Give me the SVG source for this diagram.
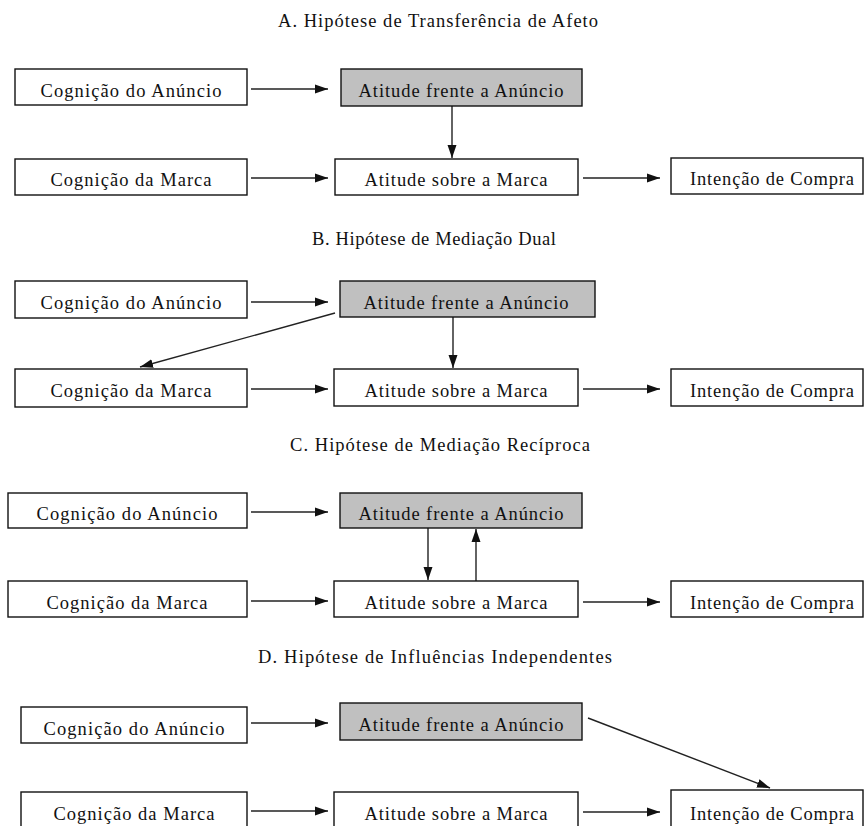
<svg xmlns="http://www.w3.org/2000/svg" width="864" height="826" viewBox="0 0 864 826">
<defs>
<style>
.box{fill:#fff;stroke:#111;stroke-width:1.4}
.gray{fill:#c0c0c0;stroke:#111;stroke-width:1.4}
.t{font-family:"Liberation Serif","Times New Roman",serif;font-size:18.5px;fill:#111;text-anchor:middle}
.title{font-family:"Liberation Serif","Times New Roman",serif;font-size:18.5px;fill:#111;text-anchor:middle}
.c{stroke:#222;stroke-width:1.4;fill:none;marker-end:url(#ah)}
</style>
<marker id="ah" markerUnits="userSpaceOnUse" markerWidth="14" markerHeight="11" refX="13" refY="5.5" orient="auto">
<path d="M0,1 L13,5.5 L0,10 Z" fill="#111"/>
</marker>
</defs>
<rect width="864" height="826" fill="#fff"/>

<text class="title" x="438" y="27" textLength="320" lengthAdjust="spacing">A. Hipótese de Transferência de Afeto</text>
<text class="title" x="434" y="245" textLength="244" lengthAdjust="spacing">B. Hipótese de Mediação Dual</text>
<text class="title" x="440" y="451" textLength="300" lengthAdjust="spacing">C. Hipótese de Mediação Recíproca</text>
<text class="title" x="435" y="663" textLength="354" lengthAdjust="spacing">D. Hipótese de Influências Independentes</text>

<g id="connectors">
<line class="c" x1="251" y1="89" x2="328" y2="89"/>
<line class="c" x1="251" y1="178" x2="328" y2="178"/>
<line class="c" x1="583" y1="178" x2="660" y2="178"/>
<line class="c" x1="452" y1="106" x2="452" y2="158"/>

<line class="c" x1="251" y1="302" x2="328" y2="302"/>
<line class="c" x1="251" y1="389" x2="328" y2="389"/>
<line class="c" x1="583" y1="389" x2="660" y2="389"/>
<line class="c" x1="453" y1="317" x2="453" y2="368"/>
<line class="c" x1="335" y1="313" x2="140" y2="367"/>

<line class="c" x1="251" y1="512" x2="328" y2="512"/>
<line class="c" x1="251" y1="601" x2="328" y2="601"/>
<line class="c" x1="583" y1="602" x2="660" y2="602"/>
<line class="c" x1="428" y1="528" x2="428" y2="580"/>
<line class="c" x1="476" y1="581" x2="476" y2="529"/>

<line class="c" x1="251" y1="723" x2="328" y2="723"/>
<line class="c" x1="251" y1="811" x2="328" y2="811"/>
<line class="c" x1="583" y1="812" x2="660" y2="812"/>
<line class="c" x1="588" y1="718" x2="770" y2="788"/>
</g>

<!-- A -->
<g id="a-cog-anuncio"><rect class="box" x="15" y="69" width="232" height="36"/><text class="t" x="131" y="97" textLength="181" lengthAdjust="spacing">Cognição do Anúncio</text></g>
<g id="a-cog-marca"><rect class="box" x="15" y="159" width="232" height="36"/><text class="t" x="131" y="186" textLength="161" lengthAdjust="spacing">Cognição da Marca</text></g>
<g id="a-att-anuncio"><rect class="gray" x="341" y="69" width="241" height="37"/><text class="t" x="461" y="97" textLength="205" lengthAdjust="spacing">Atitude frente a Anúncio</text></g>
<g id="a-att-marca"><rect class="box" x="335" y="159" width="243" height="36"/><text class="t" x="456" y="186" textLength="183" lengthAdjust="spacing">Atitude sobre a Marca</text></g>
<g id="a-intencao"><rect class="box" x="671" y="158" width="192" height="36"/><text class="t" x="772" y="185" textLength="164" lengthAdjust="spacing">Intenção de Compra</text></g>

<!-- B -->
<g id="b-cog-anuncio"><rect class="box" x="15" y="281" width="232" height="37"/><text class="t" x="131" y="309" textLength="181" lengthAdjust="spacing">Cognição do Anúncio</text></g>
<g id="b-cog-marca"><rect class="box" x="15" y="369" width="232" height="38"/><text class="t" x="131" y="397" textLength="161" lengthAdjust="spacing">Cognição da Marca</text></g>
<g id="b-att-anuncio"><rect class="gray" x="340" y="281" width="255" height="36"/><text class="t" x="466" y="309" textLength="205" lengthAdjust="spacing">Atitude frente a Anúncio</text></g>
<g id="b-att-marca"><rect class="box" x="334" y="369" width="244" height="37"/><text class="t" x="456" y="397" textLength="183" lengthAdjust="spacing">Atitude sobre a Marca</text></g>
<g id="b-intencao"><rect class="box" x="671" y="369" width="192" height="37"/><text class="t" x="772" y="397" textLength="164" lengthAdjust="spacing">Intenção de Compra</text></g>

<!-- C -->
<g id="c-cog-anuncio"><rect class="box" x="8" y="493" width="239" height="35"/><text class="t" x="127" y="520" textLength="181" lengthAdjust="spacing">Cognição do Anúncio</text></g>
<g id="c-cog-marca"><rect class="box" x="8" y="581" width="239" height="36"/><text class="t" x="127" y="609" textLength="161" lengthAdjust="spacing">Cognição da Marca</text></g>
<g id="c-att-anuncio"><rect class="gray" x="340" y="493" width="242" height="35"/><text class="t" x="461" y="520" textLength="205" lengthAdjust="spacing">Atitude frente a Anúncio</text></g>
<g id="c-att-marca"><rect class="box" x="334" y="581" width="244" height="36"/><text class="t" x="456" y="609" textLength="183" lengthAdjust="spacing">Atitude sobre a Marca</text></g>
<g id="c-intencao"><rect class="box" x="671" y="581" width="192" height="36"/><text class="t" x="772" y="609" textLength="164" lengthAdjust="spacing">Intenção de Compra</text></g>

<!-- D -->
<g id="d-cog-anuncio"><rect class="box" x="21" y="707" width="226" height="36"/><text class="t" x="134" y="735" textLength="181" lengthAdjust="spacing">Cognição do Anúncio</text></g>
<g id="d-cog-marca"><rect class="box" x="21" y="792" width="226" height="38"/><text class="t" x="134" y="820" textLength="161" lengthAdjust="spacing">Cognição da Marca</text></g>
<g id="d-att-anuncio"><rect class="gray" x="340" y="703" width="242" height="37"/><text class="t" x="461" y="731" textLength="205" lengthAdjust="spacing">Atitude frente a Anúncio</text></g>
<g id="d-att-marca"><rect class="box" x="334" y="792" width="244" height="38"/><text class="t" x="456" y="820" textLength="183" lengthAdjust="spacing">Atitude sobre a Marca</text></g>
<g id="d-intencao"><rect class="box" x="671" y="790" width="192" height="40"/><text class="t" x="772" y="820" textLength="164" lengthAdjust="spacing">Intenção de Compra</text></g>
</svg>
